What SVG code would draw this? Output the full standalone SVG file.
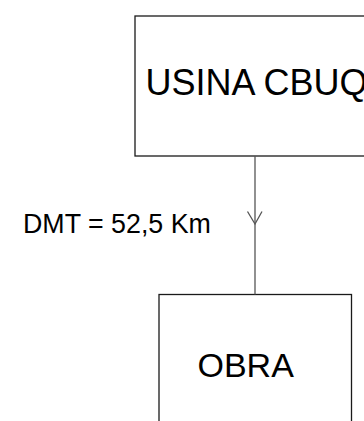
<svg xmlns="http://www.w3.org/2000/svg" width="364" height="421" viewBox="0 0 364 421">
<style>
.box{fill:#ffffff;stroke:#1a1a1a;stroke-width:1.3}
.lbl{font-family:"Liberation Sans",Arial,sans-serif;fill:#000000}
.conn{stroke:#555555;stroke-width:1.3;fill:none}
</style>
<rect x="0" y="0" width="364" height="421" fill="#ffffff"/>
<g id="usina">
<rect class="box" x="135" y="16" width="240" height="140"/>
<text class="lbl" x="145.5" y="95" font-size="36">USINA CBUQ</text>
</g>
<g id="obra">
<rect class="box" x="159" y="294.5" width="192.5" height="140"/>
<text class="lbl" x="197.5" y="376.5" font-size="34">OBRA</text>
</g>
<g id="connectors">
<line class="conn" x1="255" y1="156" x2="255" y2="294.5"/>
<polyline class="conn" points="247.5,211.5 255,224 262,211.5"/>
<text class="lbl" x="23" y="233.3" font-size="26.8">DMT = 52,5 Km</text>
</g>
</svg>
